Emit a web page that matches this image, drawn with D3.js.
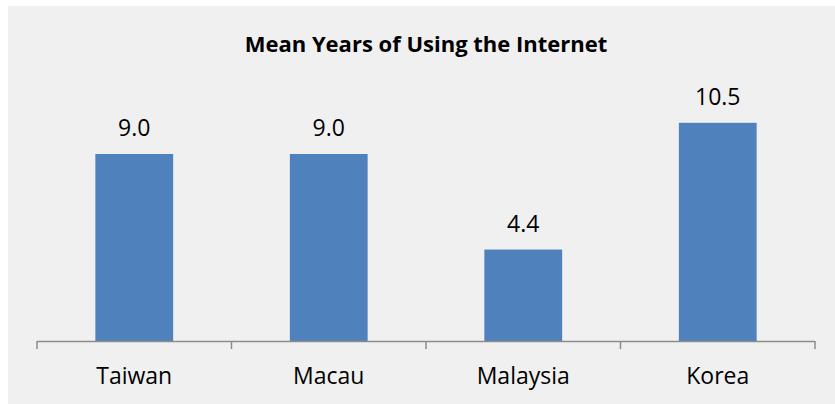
<!DOCTYPE html>
<html>
<head>
<meta charset="utf-8">
<script src="https://cdn.jsdelivr.net/npm/d3@7"></script>
<style>
  body { margin: 0; background: #fff; }
  svg { display: block; font-family: "Open Sans", sans-serif; }
</style>
</head>
<body>
<svg id="chart" width="835" height="404"></svg>
<script>
const categories = ["Taiwan", "Macau", "Malaysia", "Korea"];
const values = [9.0, 9.0, 4.4, 10.5];
const yMax = 12;

const svg = d3.select("#chart");

// chart area background
svg.append("rect")
    .attr("x", 8).attr("y", 6)
    .attr("width", 827).attr("height", 398)
    .attr("fill", "#f0f0f0");

svg.append("text")
    .attr("x", 426).attr("y", 52)
    .attr("text-anchor", "middle")
    .attr("font-size", "22px")
    .attr("font-weight", "bold")
    .attr("fill", "#000")
    .text("Mean Years of Using the Internet");

const x = d3.scaleBand()
    .domain(categories)
    .range([37, 815])
    .padding(0);

const baseY = 341;
const y = d3.scaleLinear()
    .domain([0, yMax])
    .range([baseY, baseY - yMax * 20.78]);

const barW = x.bandwidth() * 0.4;

svg.selectAll(".bar")
    .data(values)
    .join("rect")
    .attr("class", "bar")
    .attr("x", (d, i) => x(categories[i]) + (x.bandwidth() - barW) / 2)
    .attr("y", d => y(d))
    .attr("width", barW)
    .attr("height", d => y(0) - y(d))
    .attr("fill", "#4f81bd");

svg.selectAll(".val")
    .data(values)
    .join("text")
    .attr("class", "val")
    .attr("x", (d, i) => x(categories[i]) + x.bandwidth() / 2)
    .attr("y", d => y(d) - 18)
    .attr("text-anchor", "middle")
    .attr("font-size", "23px")
    .attr("fill", "#000")
    .text(d => d.toFixed(1));

// category axis
const axis = svg.append("g");
axis.append("line")
    .attr("x1", 37).attr("x2", 815)
    .attr("y1", baseY + 0.5).attr("y2", baseY + 0.5)
    .attr("stroke", "#8c8c8c").attr("stroke-width", 1.5);

const tickPos = categories.map(c => x(c)).concat([x.range()[1]]);
axis.selectAll(".tick")
    .data(tickPos)
    .join("line")
    .attr("x1", d => d).attr("x2", d => d)
    .attr("y1", baseY).attr("y2", baseY + 8)
    .attr("stroke", "#8c8c8c").attr("stroke-width", 1.5);

axis.selectAll(".cat")
    .data(categories)
    .join("text")
    .attr("x", d => x(d) + x.bandwidth() / 2)
    .attr("y", 384)
    .attr("text-anchor", "middle")
    .attr("font-size", "23px")
    .attr("fill", "#000")
    .text(d => d);
</script>
</body>
</html>
